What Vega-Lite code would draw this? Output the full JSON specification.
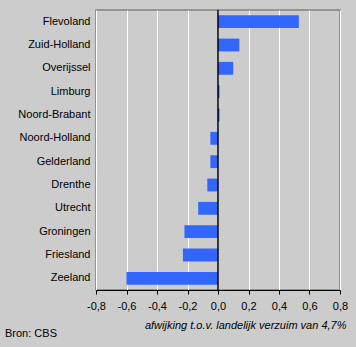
{
  "$schema": "https://vega.github.io/schema/vega-lite/v6.json",
  "width": 244,
  "height": 280,
  "autosize": "none",
  "padding": {"left": 96, "top": 10, "right": 16, "bottom": 57},
  "background": "#cccccc",
  "config": {
    "font": "Liberation Sans",
    "view": {"stroke": "#808080", "strokeWidth": 1.5, "fill": "#cccccc"},
    "axis": {"labelFont": "Liberation Sans", "titleFont": "Liberation Sans", "labelColor": "#000000", "titleColor": "#000000"}
  },
  "title": {
    "text": "Bron: CBS",
    "orient": "bottom",
    "anchor": "start",
    "frame": "group",
    "dx": -91,
    "dy": -2,
    "offset": 0,
    "fontSize": 11,
    "fontWeight": "normal",
    "font": "Liberation Sans",
    "color": "#000000"
  },
  "data": {
    "values": [
      {"provincie": "Flevoland", "afwijking": 0.53},
      {"provincie": "Zuid-Holland", "afwijking": 0.14},
      {"provincie": "Overijssel", "afwijking": 0.1},
      {"provincie": "Limburg", "afwijking": 0.01},
      {"provincie": "Noord-Brabant", "afwijking": 0.01},
      {"provincie": "Noord-Holland", "afwijking": -0.05},
      {"provincie": "Gelderland", "afwijking": -0.05},
      {"provincie": "Drenthe", "afwijking": -0.07},
      {"provincie": "Utrecht", "afwijking": -0.13},
      {"provincie": "Groningen", "afwijking": -0.22},
      {"provincie": "Friesland", "afwijking": -0.23},
      {"provincie": "Zeeland", "afwijking": -0.6}
    ]
  },
  "layer": [
    {
      "mark": {"type": "bar", "color": "#3366ff"},
      "encoding": {
        "y": {
          "field": "provincie",
          "type": "nominal",
          "sort": null,
          "scale": {"paddingInner": 0.45, "paddingOuter": 0.225},
          "axis": {
            "title": null,
            "domain": false,
            "ticks": false,
            "grid": false,
            "labelFontSize": 11,
            "labelPadding": 6
          }
        },
        "x": {
          "field": "afwijking",
          "type": "quantitative",
          "scale": {"domain": [-0.8, 0.8], "nice": false},
          "axis": {
            "values": [-0.8, -0.6, -0.4, -0.2, 0, 0.2, 0.4, 0.6, 0.8],
            "labelExpr": "replace(replace(format(datum.value, '.1f'), '.', ','), '\u2212', '-')",
            "labelFontSize": 11,
            "labelPadding": 6,
            "labelOverlap": false,
            "labelFlush": false,
            "grid": true,
            "gridColor": "#ffffff",
            "gridWidth": 1,
            "gridOpacity": 1,
            "domainColor": "#000000",
            "domainWidth": 1,
            "tickColor": "#000000",
            "tickSize": 4,
            "title": "afwijking t.o.v. landelijk verzuim van 4,7%",
            "titleFontSize": 11,
            "titleFontStyle": "italic",
            "titleFontWeight": "normal",
            "titleAnchor": "end",
            "titleAlign": "right",
            "titleX": 250,
            "titleY": 29
          }
        }
      }
    },
    {
      "data": {"values": [{"afwijking": 0}]},
      "mark": {"type": "rule", "color": "#000000", "strokeWidth": 1.5},
      "encoding": {
        "x": {
          "field": "afwijking",
          "type": "quantitative",
          "axis": {
            "values": [-0.8, -0.6, -0.4, -0.2, 0, 0.2, 0.4, 0.6, 0.8],
            "labelExpr": "replace(replace(format(datum.value, '.1f'), '.', ','), '\u2212', '-')",
            "labelFontSize": 11,
            "labelPadding": 6,
            "labelOverlap": false,
            "labelFlush": false,
            "grid": true,
            "gridColor": "#ffffff",
            "gridWidth": 1,
            "gridOpacity": 1,
            "domainColor": "#000000",
            "domainWidth": 1,
            "tickColor": "#000000",
            "tickSize": 4,
            "title": "afwijking t.o.v. landelijk verzuim van 4,7%",
            "titleFontSize": 11,
            "titleFontStyle": "italic",
            "titleFontWeight": "normal",
            "titleAnchor": "end",
            "titleAlign": "right",
            "titleX": 250,
            "titleY": 29
          }
        }
      }
    }
  ]
}
